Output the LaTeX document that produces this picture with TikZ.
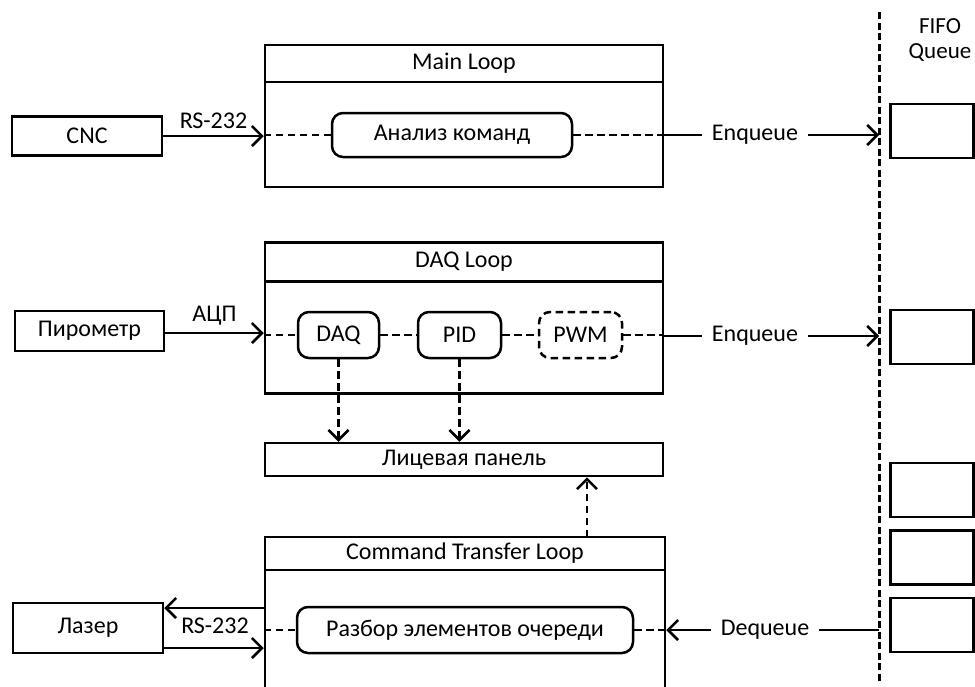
\documentclass[tikz,border=0pt]{standalone}
\usepackage{fontspec}
\setmainfont{Carlito}
\usetikzlibrary{arrows.meta}
\begin{document}
\begin{tikzpicture}[x=1pt,y=-1pt,
  line width=2.5pt,
  every node/.style={font=\fontsize{24}{28}\selectfont, inner sep=0pt},
  box/.style={draw, rectangle},
  proc/.style={draw, rectangle, rounded corners=11pt},
  lnk/.style={dash pattern=on 7.5pt off 4.5pt},
  tip/.style={-{Straight Barb[length=10pt,width=20pt,line width=2.5pt]}},
  lbl/.style={fill=white, inner xsep=9pt},
]
\useasboundingbox (0,0) rectangle (975,686);
\clip (0,0) rectangle (975,686);

% queue boundary
\coordinate (qtop) at (879,12);
\coordinate (qbot) at (879,682);
\draw[line width=3pt, dash pattern=on 7pt off 3.5pt] (qtop) -- (qbot);
\node[align=center, font=\fontsize{23}{25}\selectfont] (fifo) at (940,40) {FIFO\\Queue};
\node[box, minimum width=83pt, minimum height=54pt] (q1) at (932,131) {};
\node[box, minimum width=83pt, minimum height=54pt] (q2) at (932,337) {};
\node[box, minimum width=83pt, minimum height=54pt] (q3) at (932,490) {};
\node[box, minimum width=83pt, minimum height=54pt] (q4) at (932,557.5) {};
\node[box, minimum width=83pt, minimum height=54pt] (q5) at (932,625) {};

% Main Loop
\node[box, minimum width=398pt, minimum height=142pt] (main) at (464,116) {};
\node[box, minimum width=398pt, minimum height=37pt] (maint) at (464,63.5) {Main Loop};
\node[proc, minimum width=240pt, minimum height=44pt] (cmd) at (452,135) {Анализ команд};
\node[box, minimum width=150pt, minimum height=39pt] (cnc) at (87,136) {CNC};
\draw[tip] (cnc.east) -- node[above=6pt] (rs1) {RS-232} (main.west |- cnc.east);
\draw[lnk] (main.west |- cmd) -- (cmd.west);
\draw[lnk] (cmd.east) -- (main.east |- cmd);
\node[lbl] (enq1) at (755,135) {Enqueue};
\draw (main.east |- cmd) -- (enq1.west);
\draw[tip] (enq1.east) -- (qtop |- enq1);

% DAQ Loop
\node[box, minimum width=398pt, minimum height=151pt] (daql) at (464,318) {};
\node[box, minimum width=398pt, minimum height=39pt] (daqt) at (464,262) {DAQ Loop};
\node[proc, minimum width=81pt, minimum height=46pt] (daq) at (338.5,335) {DAQ};
\node[proc, minimum width=83pt, minimum height=46pt] (pid) at (459.5,335) {PID};
\node[proc, lnk, minimum width=83pt, minimum height=46pt] (pwm) at (580.5,335) {PWM};
\node[box, minimum width=149pt, minimum height=40pt] (pyro) at (89.5,331) {Пирометр};
\draw[tip] (pyro.east |- 0,333) -- node[above=7pt] (adc) {АЦП} (daql.west |- 0,333);
\draw[lnk] (daql.west |- daq) -- (daq.west);
\draw[lnk] (daq.east) -- (pid.west);
\draw[lnk] (pid.east) -- (pwm.west);
\draw[lnk] (pwm.east) -- (daql.east |- pwm);
\node[lbl] (enq2) at (755,336) {Enqueue};
\draw (daql.east |- enq2) -- (enq2.west);
\draw[tip] (enq2.east) -- (qtop |- enq2);

% front panel
\node[box, minimum width=398pt, minimum height=33pt] (panel) at (464,459.5) {Лицевая панель};
\draw[lnk, tip] (daq.south) -- (daq.south |- panel.north);
\draw[lnk, tip] (pid.south) -- (pid.south |- panel.north);

% Command Transfer Loop
\node[box, minimum width=400pt, minimum height=170pt] (ctl) at (465,622) {};
\node[box, minimum width=400pt, minimum height=33pt] (ctlt) at (465,553.5) {Command Transfer Loop};
\draw[lnk, tip] (587,537) coordinate (up) -- (up |- panel.south);
\node[proc, minimum width=336pt, minimum height=46pt] (parse) at (465,630) {Разбор элементов очереди};
\node[box, minimum width=150pt, minimum height=50pt] (laser) at (88,628) {Лазер};
\draw[tip] (ctl.west |- 0,608) -- (laser.east |- 0,608);
\draw[tip] (laser.east |- 0,648) -- (ctl.west |- 0,648);
\node (rs2) at (215,626) {RS-232};
\draw[lnk] (ctl.west |- parse) -- (parse.west);
\draw[lnk] (parse.east) -- (ctl.east |- parse);
\node[lbl] (deq) at (765,630) {Dequeue};
\draw (qtop |- deq) -- (deq.east);
\draw[tip] (deq.west) -- (ctl.east |- deq);
\end{tikzpicture}
\end{document}
